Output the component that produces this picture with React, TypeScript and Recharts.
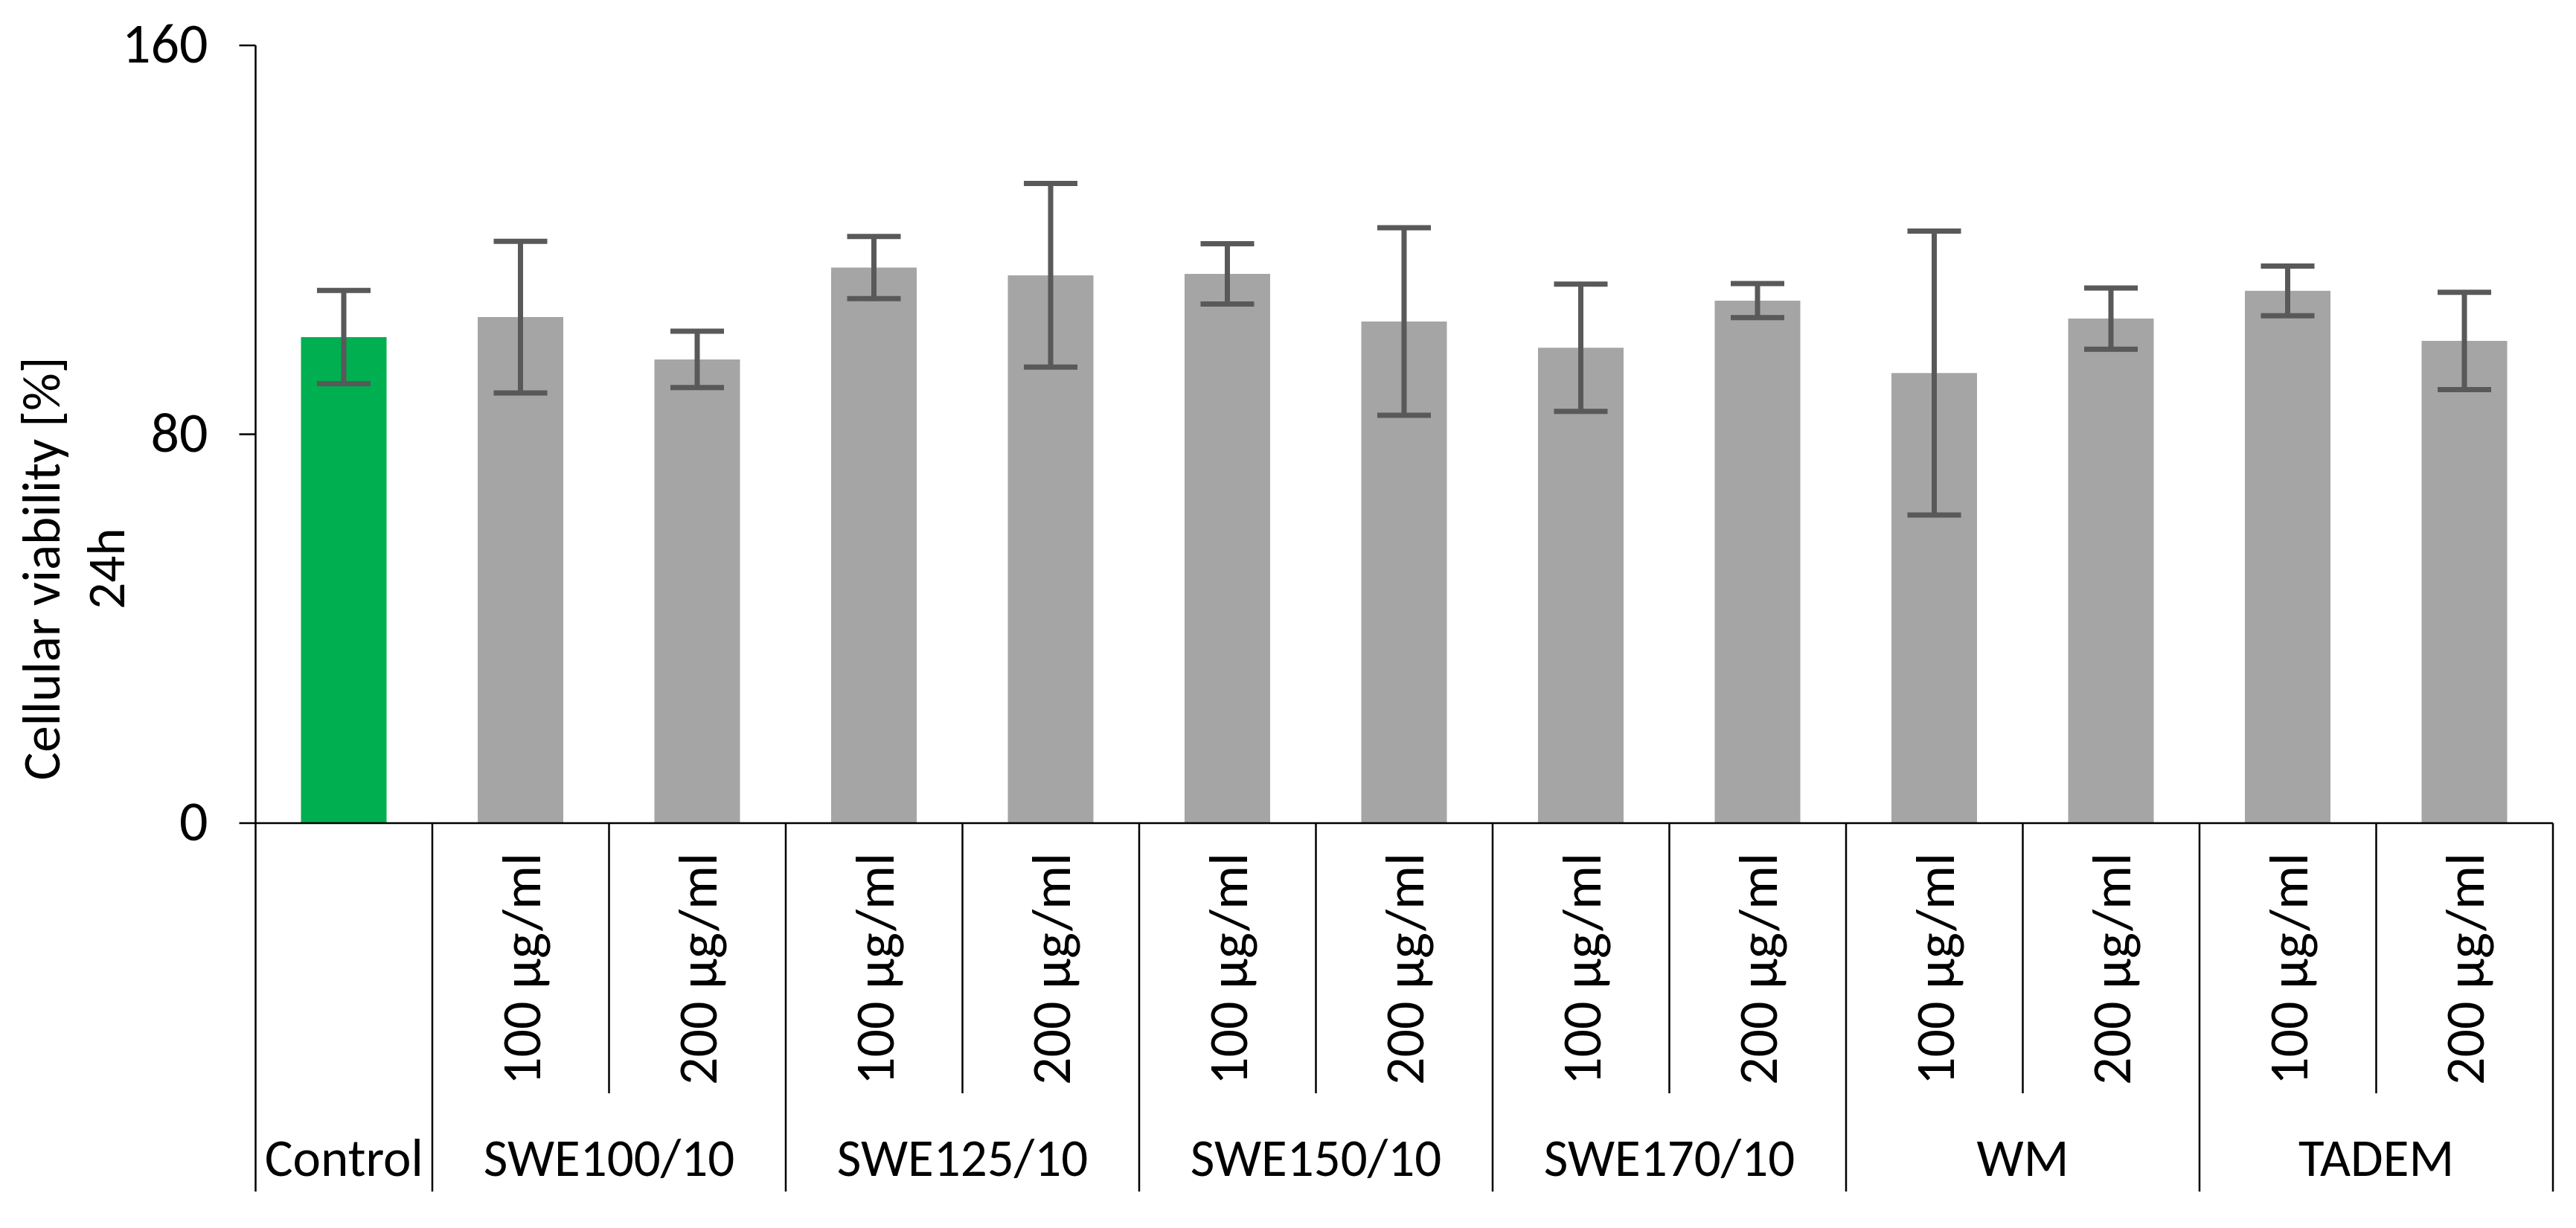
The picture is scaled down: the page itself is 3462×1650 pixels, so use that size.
import { Bar, BarChart, Cell, ErrorBar, XAxis, YAxis } from "recharts";

const groups = [
  "Control",
  "SWE100/10",
  "SWE100/10",
  "SWE125/10",
  "SWE125/10",
  "SWE150/10",
  "SWE150/10",
  "SWE170/10",
  "SWE170/10",
  "WM",
  "WM",
  "TADEM",
  "TADEM",
];
const doses = [
  "",
  "100 µg/ml",
  "200 µg/ml",
  "100 µg/ml",
  "200 µg/ml",
  "100 µg/ml",
  "200 µg/ml",
  "100 µg/ml",
  "200 µg/ml",
  "100 µg/ml",
  "200 µg/ml",
  "100 µg/ml",
  "200 µg/ml",
];
const viability = [100, 104.1, 95.4, 114.3, 112.7, 113.0, 103.2, 97.8, 107.5, 92.6, 103.8, 109.5, 99.2];
const sd = [9.6, 15.6, 5.8, 6.4, 18.9, 6.2, 19.3, 13.1, 3.5, 29.2, 6.3, 5.1, 10.0];
const yTicks = [0, 80, 160];

const rows = groups.map((g, i) => ({ id: i, group: g, dose: doses[i], value: viability[i], sd: sd[i] }));

const W = 3462;
const H = 1650;
const FONT = "Carlito, Calibri, Lato, sans-serif";
const LINE = "#000";
const PLOT_LEFT = 343.5;
const PLOT_RIGHT = 3431;
const HALF_BAND = (PLOT_RIGHT - PLOT_LEFT) / rows.length / 2;

function XTick(props: any) {
  const { x, y, payload } = props;
  const i = Number(payload.value);
  const row = rows[i];
  const sameAsPrev = i > 0 && groups[i - 1] === row.group;
  const groupSize = groups.filter((g) => g === row.group).length;
  const first = groups.indexOf(row.group) === i;
  const left = x - HALF_BAND;
  return (
    <g>
      <line
        x1={left}
        x2={left}
        y1={y}
        y2={y + (sameAsPrev ? 363 : 495)}
        stroke={LINE}
        strokeWidth={2.5}
      />
      {i === rows.length - 1 && (
        <line x1={x + HALF_BAND} x2={x + HALF_BAND} y1={y} y2={y + 495} stroke={LINE} strokeWidth={2.5} />
      )}
      {row.dose && (
        <text
          transform={`translate(${x + 26}, ${y + 196}) rotate(-90)`}
          textAnchor="middle"
          fontFamily={FONT}
          fontSize={74}
          fill="#000"
        >
          {row.dose}
        </text>
      )}
      {first && (
        <text
          x={left + groupSize * HALF_BAND}
          y={y + 474}
          textAnchor="middle"
          fontFamily={FONT}
          fontSize={71}
          fill="#000"
        >
          {row.group}
        </text>
      )}
    </g>
  );
}

function YTick(props: any) {
  const { x, y, payload } = props;
  return (
    <text x={x} y={y + 23} textAnchor="end" fontFamily={FONT} fontSize={76} fill="#000">
      {payload.value}
    </text>
  );
}

function YTitle() {
  return (
    <g fontFamily={FONT} fontSize={71} fill="#000">
      <text transform="translate(80, 764) rotate(-90)" textAnchor="middle">
        Cellular viability [%]
      </text>
      <text transform="translate(167, 764) rotate(-90)" textAnchor="middle">
        24h
      </text>
    </g>
  );
}

export default function App() {
  return (
    <div style={{ position: "absolute", left: 0, top: 0, width: W, height: H, background: "#fff" }}>
      <BarChart
        width={W}
        height={H}
        data={rows}
        margin={{ top: 61, right: W - PLOT_RIGHT, left: PLOT_LEFT - 100, bottom: 44 }}
      >
        <XAxis
          dataKey="id"
          type="category"
          height={500}
          tickSize={0}
          tickMargin={0}
          tickLine={false}
          interval={0}
          axisLine={{ stroke: LINE, strokeWidth: 2.5 }}
          tick={<XTick />}
        />
        <YAxis
          domain={[0, 160]}
          ticks={yTicks}
          width={100}
          tickSize={22}
          tickMargin={42}
          axisLine={{ stroke: LINE, strokeWidth: 2.5 }}
          tickLine={{ stroke: LINE, strokeWidth: 2.5 }}
          tick={<YTick />}
          label={{ content: () => <YTitle /> }}
        />
        <Bar dataKey="value" barSize={115} isAnimationActive={false}>
          {rows.map((r) => (
            <Cell key={r.id} fill={r.id === 0 ? "#00B050" : "#A5A5A5"} />
          ))}
          <ErrorBar
            dataKey="sd"
            direction="y"
            width={36}
            strokeWidth={7}
            stroke="#595959"
            isAnimationActive={false}
          />
        </Bar>
      </BarChart>
    </div>
  );
}
